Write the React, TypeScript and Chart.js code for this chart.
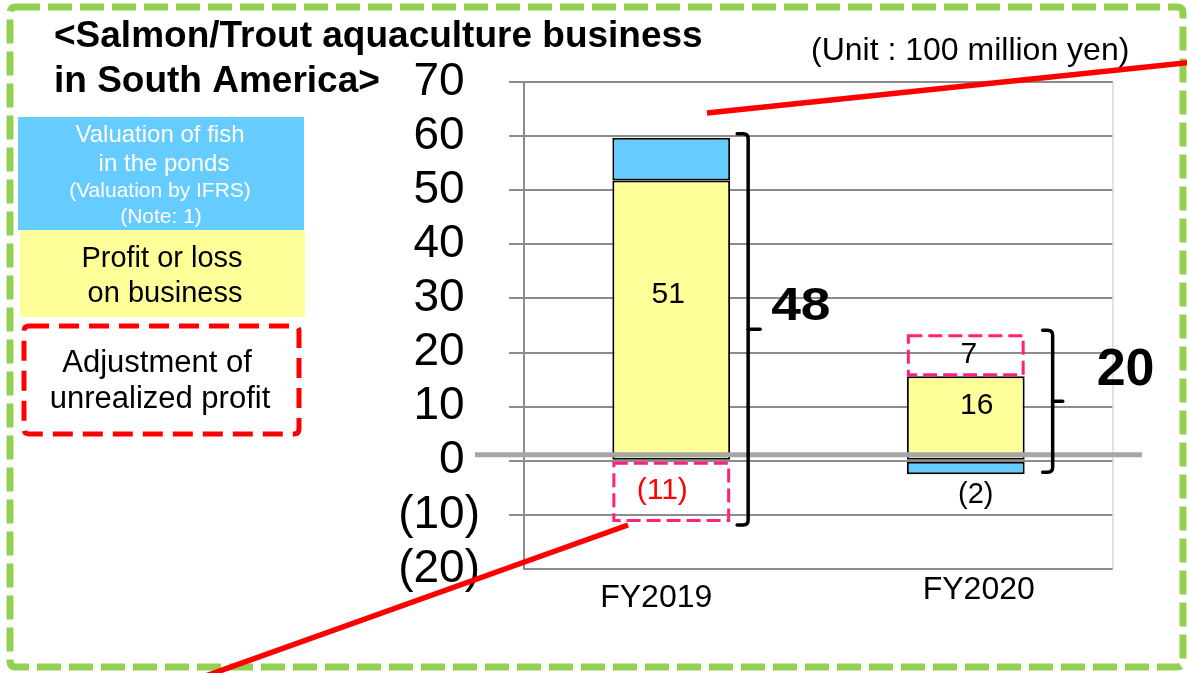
import React, { useEffect, useRef } from "react";
import { Chart, registerables } from "chart.js";

Chart.register(...registerables);

// ---------- data ----------
const categories = ["FY2019", "FY2020"];
const profitOrLoss = [51.8, 15.6];
const fishValuation = [7.9, -2.5];
const unrealizedAdjustment = [-11.3, 7.8];
const profitLabels = ["51", "16"];
const valuationLabels = ["", "(2)"];
const adjustmentLabels = ["(11)", "7"];
const totalLabels = ["48", "20"];
const yMin = -20;
const yMax = 70;
const yStep = 10;

const FONT = "'Liberation Sans', Arial, Helvetica, sans-serif";
const GRID = "#8c8c8c";
const PINK = "#ff2277";
const BLUE = "#66CCFF";
const YELLOW = "#FFFF99";
const GREEN = "#92D050";
const RED = "#FF0000";

const fmtTick = (v: number) => (v < 0 ? `(${Math.abs(v)})` : `${v}\u2004`);

// label styles (per dataset, per category)
const segStyle: any[][] = [
  [
    { size: 30, color: "#000", dx: -3, dy: -25 },
    { size: 30, color: "#000", dx: 11, dy: -12 },
  ],
  [null, { size: 29, color: "#000", dx: 10, dy: 27 }],
  [
    { size: 30, color: RED, dx: -9, dy: -1 },
    { size: 30, color: "#000", dx: 3, dy: -1 },
  ],
];
const segText = [profitLabels, valuationLabels, adjustmentLabels];

const bracketStyle = [
  { serif: 7, stem: 18, nub: 30, padTop: 4, padBottom: 3, gap: 11, dy: -9, size: 46, sx: 1.16 },
  { serif: 18, stem: 28, nub: 38, padTop: 4, padBottom: -2, gap: 34, dy: -16, size: 52, sx: 1.0 },
];
const xLabelStyle = [
  { dx: -15, dy: 38 },
  { dx: 13, dy: 30 },
];

const decor = {
  id: "decor",
  afterDatasetsDraw(chart: any) {
    const ctx = chart.ctx as CanvasRenderingContext2D;
    const ys = chart.scales.y;
    const area = chart.chartArea;
    ctx.save();

    // right border of plot
    ctx.strokeStyle = "#d9d9d9";
    ctx.lineWidth = 1.5;
    ctx.beginPath();
    ctx.moveTo(area.right, area.top);
    ctx.lineTo(area.right, area.bottom);
    ctx.stroke();

    // thick zero line
    const y0 = ys.getPixelForValue(0) - 6;
    ctx.strokeStyle = "#a6a6a6";
    ctx.lineWidth = 5;
    ctx.beginPath();
    ctx.moveTo(area.left - 49, y0);
    ctx.lineTo(area.right + 29, y0);
    ctx.stroke();

    // dashed adjustment boxes
    const adj = chart.getDatasetMeta(2);
    adj.data.forEach((bar: any) => {
      const p = bar.getProps(["x", "y", "base", "width"], true);
      const top = Math.min(p.y, p.base);
      const bottom = Math.max(p.y, p.base);
      ctx.setLineDash([14, 6]);
      ctx.lineWidth = 3;
      ctx.strokeStyle = PINK;
      ctx.strokeRect(p.x - p.width / 2 + 1.5, top + 1.5, p.width - 3, bottom - top - 3);
    });
    ctx.setLineDash([]);

    // segment labels
    ctx.textAlign = "center";
    ctx.textBaseline = "middle";
    for (let d = 0; d < 3; d++) {
      const meta = chart.getDatasetMeta(d);
      meta.data.forEach((bar: any, j: number) => {
        const st = segStyle[d][j];
        const txt = segText[d][j];
        if (!st || !txt) return;
        const p = bar.getProps(["x", "y", "base"], true);
        ctx.font = `${st.size}px ${FONT}`;
        ctx.fillStyle = st.color;
        ctx.fillText(txt, p.x + st.dx, (p.y + p.base) / 2 + st.dy);
      });
    }

    // brackets + totals
    categories.forEach((_, j) => {
      let top = Infinity;
      let bottom = -Infinity;
      let right = 0;
      for (let d = 0; d < 3; d++) {
        const p = chart.getDatasetMeta(d).data[j].getProps(["x", "y", "base", "width"], true);
        top = Math.min(top, p.y, p.base);
        bottom = Math.max(bottom, p.y, p.base);
        right = p.x + p.width / 2;
      }
      const b = bracketStyle[j];
      top -= b.padTop;
      bottom += b.padBottom;
      const xs = right + b.serif;
      const xv = right + b.stem;
      const xn = right + b.nub;
      const mid = (top + bottom) / 2;
      const r = 5;
      ctx.strokeStyle = "#000";
      ctx.lineWidth = 3.5;
      ctx.lineCap = "round";
      ctx.beginPath();
      ctx.moveTo(xs, top);
      ctx.lineTo(xv - r, top);
      ctx.quadraticCurveTo(xv, top, xv, top + r);
      ctx.lineTo(xv, bottom - r);
      ctx.quadraticCurveTo(xv, bottom, xv - r, bottom);
      ctx.lineTo(xs, bottom);
      ctx.stroke();
      ctx.beginPath();
      ctx.moveTo(xv, mid);
      ctx.lineTo(xn, mid);
      ctx.stroke();
      ctx.save();
      ctx.font = `bold ${b.size}px ${FONT}`;
      ctx.fillStyle = "#000";
      ctx.textAlign = "left";
      ctx.textBaseline = "alphabetic";
      ctx.translate(xn + b.gap, mid + b.dy);
      ctx.scale(b.sx, 1);
      ctx.fillText(totalLabels[j], 0, 0);
      ctx.restore();
    });

    // category labels
    const xsc = chart.scales.x;
    ctx.textAlign = "center";
    ctx.textBaseline = "alphabetic";
    ctx.font = `32px ${FONT}`;
    ctx.fillStyle = "#000";
    categories.forEach((c, j) => {
      const st = xLabelStyle[j];
      ctx.fillText(c, xsc.getPixelForValue(j) + st.dx, area.bottom + st.dy);
    });
    ctx.restore();
  },
  afterDraw(chart: any) {
    const ctx = chart.ctx as CanvasRenderingContext2D;
    ctx.save();
    ctx.fillStyle = "#000";
    ctx.textAlign = "left";
    ctx.textBaseline = "alphabetic";
    ctx.font = `bold 37px ${FONT}`;
    ctx.fillText("<Salmon/Trout aquaculture business", 54, 47);
    ctx.fillText("in South America>", 54, 92);
    ctx.font = `32px ${FONT}`;
    ctx.fillText("(Unit : 100 million yen)", 811, 60);

    // legend boxes
    ctx.fillStyle = BLUE;
    ctx.fillRect(18, 117, 286, 113);
    ctx.fillStyle = YELLOW;
    ctx.fillRect(20, 230, 285, 87);
    ctx.textAlign = "center";
    ctx.fillStyle = "#fff";
    ctx.font = `24px ${FONT}`;
    ctx.fillText("Valuation of fish", 160, 142);
    ctx.fillText("in the ponds", 164, 171);
    ctx.font = `21px ${FONT}`;
    ctx.fillText("(Valuation by IFRS)", 160, 197);
    ctx.fillText("(Note: 1)", 161, 223);
    ctx.fillStyle = "#000";
    ctx.font = `29px ${FONT}`;
    ctx.fillText("Profit or loss", 162, 267);
    ctx.fillText("on business", 165, 302);
    ctx.font = `31px ${FONT}`;
    ctx.fillText("Adjustment of", 157, 372);
    ctx.fillText("unrealized profit", 160, 408);

    const rr = (x: number, y: number, w: number, h: number, r: number) => {
      ctx.beginPath();
      ctx.moveTo(x + r, y);
      ctx.lineTo(x + w - r, y);
      ctx.quadraticCurveTo(x + w, y, x + w, y + r);
      ctx.lineTo(x + w, y + h - r);
      ctx.quadraticCurveTo(x + w, y + h, x + w - r, y + h);
      ctx.lineTo(x + r, y + h);
      ctx.quadraticCurveTo(x, y + h, x, y + h - r);
      ctx.lineTo(x, y + r);
      ctx.quadraticCurveTo(x, y, x + r, y);
      ctx.closePath();
    };
    // red dashed legend box
    ctx.strokeStyle = RED;
    ctx.lineWidth = 5;
    ctx.setLineDash([20, 10]);
    rr(24, 326, 275, 108, 5);
    ctx.stroke();

    // green dashed frame
    ctx.strokeStyle = GREEN;
    ctx.lineWidth = 7;
    ctx.setLineDash([24, 8]);
    rr(10, 7, 1173, 660, 6);
    ctx.stroke();
    ctx.setLineDash([]);

    // red callout lines
    ctx.strokeStyle = RED;
    ctx.lineWidth = 5.5;
    ctx.lineCap = "butt";
    ctx.beginPath();
    ctx.moveTo(707, 113);
    ctx.lineTo(1195, 62);
    ctx.stroke();
    ctx.beginPath();
    ctx.moveTo(628, 525);
    ctx.lineTo(200, 678);
    ctx.stroke();
    ctx.restore();
  },
};

export default function App() {
  const ref = useRef<HTMLCanvasElement | null>(null);
  useEffect(() => {
    if (!ref.current) return;
    Chart.defaults.font.family = FONT;
    const chart = new Chart(ref.current, {
      type: "bar",
      data: {
        labels: categories,
        datasets: [
          {
            label: "Profit or loss on business",
            data: profitOrLoss,
            backgroundColor: YELLOW,
            borderColor: "#000",
            borderWidth: 2,
            borderSkipped: false,
          },
          {
            label: "Valuation of fish in the ponds",
            data: fishValuation,
            backgroundColor: BLUE,
            borderColor: "#000",
            borderWidth: 2,
            borderSkipped: false,
          },
          {
            label: "Adjustment of unrealized profit",
            data: unrealizedAdjustment,
            backgroundColor: "rgba(255,255,255,0)",
            borderWidth: 0,
          },
        ],
      },
      options: {
        responsive: false,
        animation: false,
        categoryPercentage: 1,
        barPercentage: 0.4,
        layout: { padding: { left: 0, right: 74, top: 82, bottom: 104 } },
        plugins: {
          legend: { display: false },
          tooltip: { enabled: false },
          title: { display: false },
        },
        scales: {
          x: { stacked: true, display: false },
          y: {
            stacked: true,
            min: yMin,
            max: yMax,
            afterFit: (s: any) => {
              s.width = 524;
            },
            ticks: {
              stepSize: yStep,
              autoSkip: false,
              padding: 29,
              color: "#000",
              font: { size: 46, family: FONT },
              callback: (v: any) => fmtTick(Number(v)),
            },
            grid: {
              color: GRID,
              lineWidth: 2,
              tickLength: 15,
              tickColor: (c: any) => (c.tick && c.tick.value === yMin ? "rgba(0,0,0,0)" : GRID),
            },
            border: { display: true, color: GRID, width: 2 },
          },
        },
      } as any,
      plugins: [decor],
    });
    return () => chart.destroy();
  }, []);
  return (
    <div style={{ position: "absolute", left: 0, top: 0, width: 1187, height: 673, background: "#fff" }}>
      <canvas ref={ref} width={1187} height={673} style={{ display: "block" }} />
    </div>
  );
}
